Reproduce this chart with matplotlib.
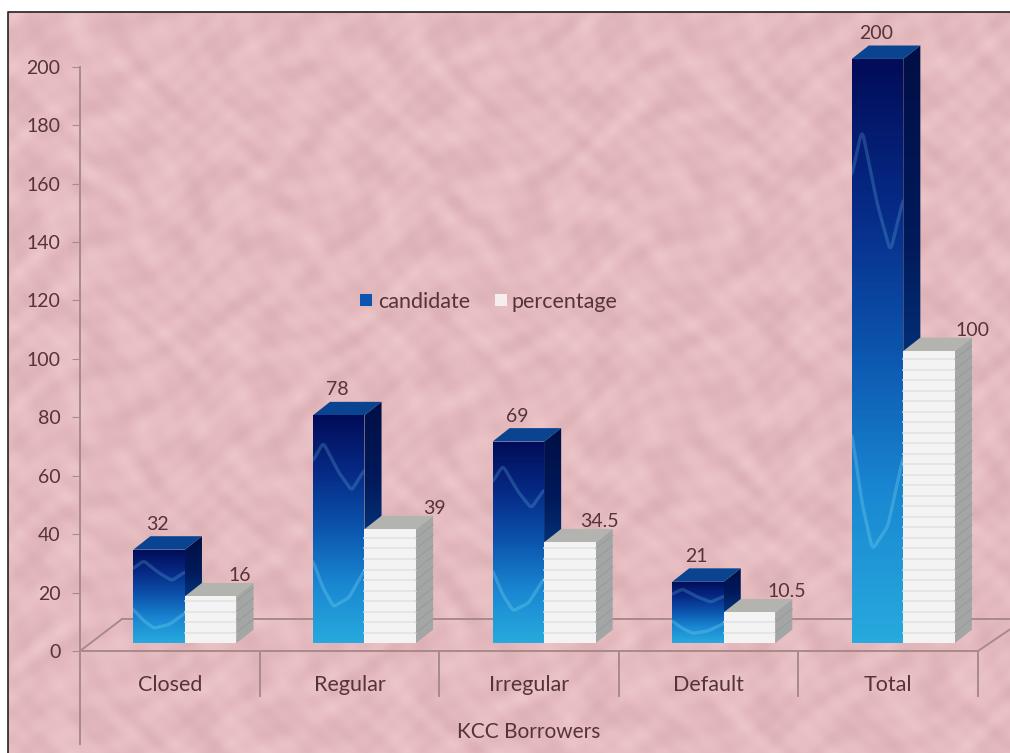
# KCC borrowers, fake 3D column chart on a pink paper background
import numpy as np
import matplotlib.pyplot as plt
from matplotlib.colors import LinearSegmentedColormap
from matplotlib.patches import Polygon, Rectangle

categories = ['Closed', 'Regular', 'Irregular', 'Default', 'Total']
candidate = [32, 78, 69, 21, 200]
percentage = [16, 39, 34.5, 10.5, 100]
candidate_labels = ['32', '78', '69', '21', '200']
percentage_labels = ['16', '39', '34.5', '10.5', '100']
yticks = list(range(0, 201, 20))

W, H = 1010, 753
X0, X1, Y0, Y1 = 80, 978, 651, 23   # pixel box of the plot axes, room above 200 for the tallest bar
ymax = 215
bar_w = 0.287     # bar width in category units
bar_off = 0.297   # first bar starts here inside a category
base = 2.7        # bars stand a bit above the front edge of the floor
dx = 0.095        # depth of the 3d effect
dy = 4.6
pct_nudge = [0.02, 0.10, 0.02, 0.065, 0.10]  # percentage labels do not sit evenly in the original

txt = '#563338'
line = '#a98a8c'

plt.rcParams['font.family'] = ['Lato', 'DejaVu Sans']

fig = plt.figure(figsize=(W / 100, H / 100), dpi=100, facecolor='white')

# paper texture from a few overlaid waves
bg = fig.add_axes([8 / W, 0, (W - 8) / W, (H - 12) / H])
yy, xx = np.mgrid[0:H - 12, 0:W - 8]
tex = (np.sin(xx / 13.0 + 3.1 * np.sin(yy / 21.0 + 1.3 * np.sin(xx / 47.0)))
       + np.sin(yy / 11.0 + 3.4 * np.sin(xx / 27.0 + 1.7 * np.sin(yy / 53.0)))
       + 0.5 * np.sin((xx + 1.7 * yy) / 7.1 + 3 * np.sin(xx / 31.0))
       + 0.5 * np.sin((1.4 * xx - yy) / 6.3 + 3 * np.sin(yy / 33.0)))
paper = LinearSegmentedColormap.from_list('paper', ['#dcb0b5', '#e5bbbf', '#ecc6c9'])
bg.imshow(tex, cmap=paper, aspect='auto')
bg.axis('off')
fig.add_artist(plt.Line2D([8 / W, 8 / W, 1], [0, 1 - 12 / H, 1 - 12 / H], color='#222222', lw=1.2))

ax = fig.add_axes([X0 / W, 1 - Y0 / H, (X1 - X0) / W, (Y0 - Y1) / H])
ax.patch.set_alpha(0)
ax.set_xlim(0, 5)
ax.set_ylim(0, ymax)
ax.set_xticks([])
ax.set_yticks(yticks)
ax.set_yticklabels([str(t) for t in yticks], fontsize=14, color=txt)
ax.tick_params(axis='y', length=6, color=line, pad=8)
for s in ['top', 'right', 'bottom']:
    ax.spines[s].set_visible(False)
ax.spines['left'].set_color(line)
ax.spines['left'].set_linewidth(1.4)
ax.spines['left'].set_bounds(-32, 200)
ax.spines['left'].set_clip_on(False)


def ln(xs, ys, **kw):
    ax.plot(xs, ys, color=line, lw=1.4, clip_on=False, **kw)


# floor and category separators
ln([0, 5], [0, 0])
ln([0, 0.235], [0, 11])
ln([0.235, 5.18], [11, 11])
ln([5, 5.18], [0, 7.5])
for i in range(1, 6):
    ln([i, i], [0, -15.5])

blues = LinearSegmentedColormap.from_list('blues3d', ['#27aadd', '#1a88d2', '#0c55ae', '#062a86', '#020c58'])
blues_side = LinearSegmentedColormap.from_list('side3d', ['#0a6a9a', '#04408a', '#011a5c', '#000f45'])


def grad_bar(cmap, poly, z):
    # vertical gradient clipped to a polygon
    g = np.linspace(0, 1, 128).reshape(-1, 1)
    ys = [p[1] for p in poly]
    xs = [p[0] for p in poly]
    im = ax.imshow(g, cmap=cmap, origin='lower', aspect='auto', zorder=z,
                   extent=[min(xs), max(xs), min(ys), max(ys)])
    im.set_clip_path(Polygon(poly, transform=ax.transData))
    return im


def swoosh(x, v, z):
    # faint light curves printed on the blue columns
    clip = Rectangle((x, base), bar_w, v, transform=ax.transData)
    t = np.linspace(0, 1, 60)
    low = np.interp(t, [0, 0.2, 0.4, 0.7, 1], [0.36, 0.24, 0.16, 0.2, 0.32])
    up = np.interp(t, [0, 0.2, 0.5, 0.75, 1], [0.8, 0.88, 0.75, 0.67, 0.76])
    k = np.hanning(9) / np.hanning(9).sum()
    low = np.convolve(np.pad(low, 4, mode='edge'), k, mode='valid')
    up = np.convolve(np.pad(up, 4, mode='edge'), k, mode='valid')
    for f, a in [(low, 0.32), (up, 0.22)]:
        l, = ax.plot(x + bar_w * t, base + v * f, color='#7ad4f2', lw=2.4, alpha=a, zorder=z)
        l.set_clip_path(clip)


for i in range(len(categories)):
    # candidate column
    x = i + bar_off
    v = candidate[i]
    top = base + v
    grad_bar(blues_side, [(x + bar_w, base), (x + bar_w + dx, base + dy),
                          (x + bar_w + dx, top + dy), (x + bar_w, top)], 3)
    ax.add_patch(Polygon([(x, top), (x + dx, top + dy), (x + bar_w + dx, top + dy), (x + bar_w, top)],
                         facecolor='#0a4390', edgecolor='none', zorder=3))
    grad_bar(blues, [(x, base), (x + bar_w, base), (x + bar_w, top), (x, top)], 4)
    swoosh(x, v, 5)
    ax.text(x + 0.135, top + dy + 1.2, candidate_labels[i], ha='center', va='bottom', fontsize=14,
            color=txt, zorder=8)

    # percentage column
    x2 = x + bar_w
    v2 = percentage[i]
    top2 = base + v2
    ax.add_patch(Polygon([(x2 + bar_w, base), (x2 + bar_w + dx, base + dy), (x2 + bar_w + dx, top2 + dy),
                          (x2 + bar_w, top2)], facecolor='#a4a5a5', edgecolor='none', zorder=6))
    ax.add_patch(Polygon([(x2, top2), (x2 + dx, top2 + dy), (x2 + bar_w + dx, top2 + dy), (x2 + bar_w, top2)],
                         facecolor='#b3b3b0', edgecolor='none', zorder=6))
    ax.add_patch(Rectangle((x2, base), bar_w, v2, facecolor='#f3f3f3', edgecolor='none', zorder=6))
    for s in np.arange(base + 3.6, top2, 3.6):
        ax.plot([x2, x2 + bar_w], [s, s], color='#e2e2e2', lw=1.1, zorder=7)
        ax.plot([x2 + bar_w, x2 + bar_w + dx], [s, s + dy], color='#979898', lw=0.6, zorder=7)
    ax.text(x2 + bar_w + pct_nudge[i], top2 + dy - 0.4, percentage_labels[i], ha='center', va='bottom',
            fontsize=14, color=txt, zorder=8)

# category labels and axis title
for i, c in enumerate(categories):
    ax.text(i + 0.5, -11.6, c, ha='center', va='center', fontsize=15.5, color=txt, clip_on=False)
ax.text(2.5, -27.6, 'KCC Borrowers', ha='center', va='center', fontsize=15, color=txt, clip_on=False)

# legend sits in the middle of the plot
ax.add_patch(Rectangle((1.56, 118), 0.065, 4.2, facecolor='#0c55ae', edgecolor='none'))
ax.text(1.66, 119.5, 'candidate', ha='left', va='center', fontsize=15.5, color=txt)
ax.add_patch(Rectangle((2.31, 118), 0.07, 4.2, facecolor='#f6eeee', edgecolor='none'))
ax.text(2.405, 119.5, 'percentage', ha='left', va='center', fontsize=15.5, color=txt)

ax.set_xlim(0, 5)
ax.set_ylim(0, ymax)
fig.savefig('out.png', dpi=100)
